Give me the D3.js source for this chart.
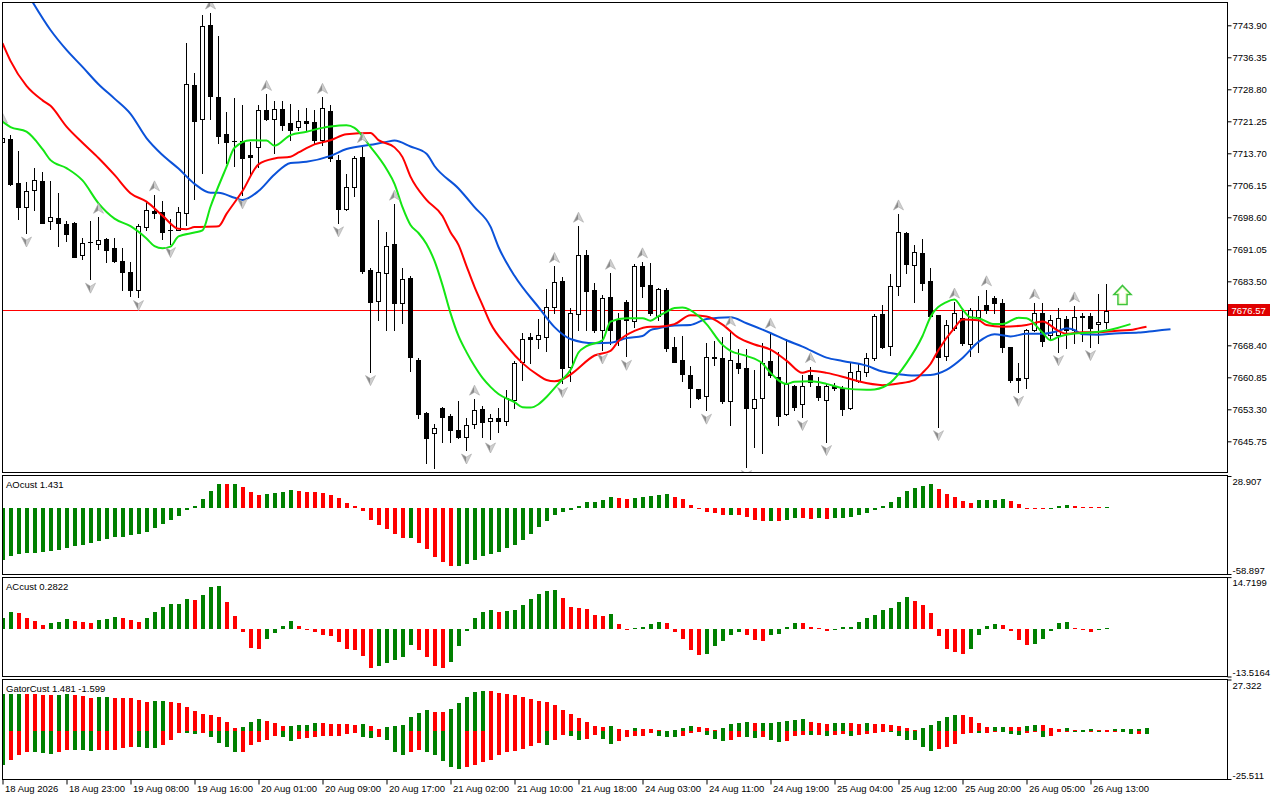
<!DOCTYPE html>
<html><head><meta charset="utf-8">
<script src="https://cdn.jsdelivr.net/npm/d3@7"></script>
<style>
html,body{margin:0;padding:0;background:#fff;overflow:hidden;}
svg{display:block;}
text{font-family:"Liberation Sans",Arial,sans-serif;font-size:9.5px;fill:#000;}
</style></head><body>
<svg id="c" width="1280" height="800"></svg>
<script>
// ---------- DATA ----------
const timeLabelBars = [0,8,16,24,32,40,48,56,64,72,80,88,96,104,112,120,128,136];
const timeLabels = ["18 Aug 2026","18 Aug 23:00","19 Aug 08:00","19 Aug 16:00","20 Aug 01:00","20 Aug 09:00","20 Aug 17:00","21 Aug 02:00","21 Aug 10:00","21 Aug 18:00","24 Aug 03:00","24 Aug 11:00","24 Aug 19:00","25 Aug 04:00","25 Aug 12:00","25 Aug 20:00","26 Aug 05:00","26 Aug 13:00"];
const priceTicks = [7645.75,7653.30,7660.85,7668.40,7683.50,7691.05,7698.60,7706.15,7713.70,7721.25,7728.80,7736.35,7743.90];
const priceRange = [7638.51, 7749.40];
const currentPrice = 7676.57;

const open  = [7716.4,7717.0,7706.7,7701.0,7705.0,7707.1,7697.7,7698.4,7697.0,7697.2,7689.6,7692.8,7692.2,7693.5,7691.3,7688.4,7685.7,7681.5,7696.2,7700.1,7699.8,7695.6,7695.6,7699.5,7729.8,7721.7,7744.0,7727.1,7718.2,7716.6,7716.7,7713.3,7715.2,7723.9,7721.7,7724.2,7720.8,7719.8,7721.3,7721.1,7716.8,7723.7,7712.1,7700.5,7705.7,7712.8,7686.2,7678.9,7685.4,7692.3,7678.5,7684.2,7665.0,7652.4,7647.7,7653.5,7651.7,7648.4,7646.7,7649.8,7653.3,7650.5,7651.2,7650.6,7655.5,7664.4,7670.4,7670.0,7670.3,7677.4,7683.6,7663.3,7675.8,7689.6,7681.4,7672.0,7679.7,7674.4,7678.7,7674.2,7687.2,7682.6,7675.2,7681.5,7668.1,7665.0,7661.4,7658.1,7656.4,7665.7,7665.4,7655.3,7664.3,7663.0,7653.7,7655.9,7664.7,7660.9,7652.1,7658.9,7654.5,7661.4,7658.9,7655.5,7658.8,7658.4,7653.5,7660.0,7662.2,7665.4,7675.8,7668.3,7682.5,7695.0,7687.4,7690.1,7683.6,7675.5,7665.9,7672.4,7674.8,7668.7,7675.0,7677.9,7679.5,7678.5,7667.9,7660.6,7660.7,7672.0,7676.0,7670.9,7670.8,7674.6,7672.0,7675.2,7675.4,7673.4,7674.0];
const high  = [7719.9,7718.0,7714.2,7706.9,7710.2,7709.4,7707.1,7704.4,7697.8,7697.5,7693.8,7697.7,7698.6,7693.7,7693.7,7691.3,7688.1,7697.0,7702.5,7703.9,7702.5,7698.1,7701.1,7739.8,7732.6,7746.4,7746.8,7741.4,7723.5,7726.7,7725.1,7716.4,7725.1,7727.6,7726.1,7726.1,7725.3,7723.9,7724.3,7723.9,7726.9,7725.1,7713.3,7708.8,7713.1,7715.3,7686.6,7698.0,7695.1,7701.7,7686.6,7684.8,7665.4,7652.6,7649.8,7653.9,7652.2,7655.3,7651.2,7655.7,7654.1,7652.2,7653.5,7657.9,7664.7,7671.4,7671.4,7674.6,7681.6,7687.0,7684.6,7677.2,7696.5,7690.9,7683.2,7680.3,7685.4,7676.0,7679.1,7687.6,7688.1,7687.8,7681.9,7681.9,7670.3,7670.5,7663.5,7658.2,7668.9,7669.3,7670.3,7672.0,7667.5,7667.5,7662.6,7668.9,7671.5,7666.9,7670.0,7659.0,7661.4,7663.4,7661.0,7659.5,7659.4,7658.9,7664.2,7664.0,7666.6,7675.8,7677.9,7685.3,7699.4,7695.2,7692.1,7693.4,7686.6,7675.6,7674.4,7678.6,7676.7,7677.2,7680.0,7681.5,7680.0,7679.4,7668.0,7664.2,7672.2,7678.4,7678.3,7675.6,7677.2,7675.2,7677.7,7676.0,7676.1,7680.5,7682.9];
const low   = [7715.9,7706.2,7698.2,7694.9,7700.3,7697.2,7695.9,7691.9,7693.0,7689.2,7688.7,7684.0,7691.1,7688.1,7688.0,7681.5,7680.1,7679.9,7695.6,7698.4,7693.4,7692.4,7695.5,7696.8,7702.9,7709.0,7721.7,7716.2,7711.4,7710.8,7703.9,7708.6,7710.5,7721.6,7713.7,7719.2,7716.8,7719.2,7719.2,7716.1,7715.7,7712.0,7697.3,7700.3,7703.7,7685.4,7662.2,7674.4,7672.0,7672.0,7673.6,7662.3,7651.2,7640.7,7639.4,7645.7,7645.7,7646.6,7643.7,7648.8,7646.7,7646.3,7648.0,7649.6,7653.5,7660.2,7664.2,7667.7,7667.1,7676.0,7659.4,7660.0,7672.0,7672.0,7671.5,7667.3,7668.7,7668.5,7665.8,7672.7,7679.9,7675.6,7674.4,7667.1,7664.4,7660.0,7653.8,7655.7,7653.1,7663.8,7654.9,7649.6,7661.8,7639.8,7644.5,7642.9,7661.0,7649.6,7652.0,7653.1,7651.6,7658.8,7655.5,7645.7,7657.9,7652.0,7653.3,7659.7,7661.2,7665.0,7667.8,7666.2,7680.3,7685.4,7678.7,7681.5,7675.0,7649.2,7665.0,7672.0,7668.5,7665.8,7666.9,7676.0,7676.0,7666.9,7659.8,7657.3,7658.4,7671.8,7668.3,7669.6,7666.9,7667.8,7669.0,7669.3,7668.1,7669.0,7672.4];
const close = [7717.3,7706.4,7701.0,7704.8,7707.3,7697.3,7698.6,7697.3,7694.6,7689.3,7692.5,7692.7,7693.3,7690.9,7688.4,7685.8,7681.5,7696.6,7700.3,7699.7,7695.2,7695.5,7699.8,7730.0,7721.4,7743.7,7727.3,7717.9,7716.4,7716.5,7712.7,7712.9,7723.9,7721.9,7724.2,7720.3,7719.3,7721.3,7720.9,7716.8,7724.3,7712.5,7700.5,7705.7,7712.5,7686.0,7678.7,7685.6,7691.9,7678.3,7684.0,7665.6,7652.1,7646.6,7648.8,7651.6,7648.4,7646.8,7649.6,7653.1,7650.2,7651.2,7650.6,7656.0,7664.2,7669.9,7670.0,7670.8,7677.4,7683.3,7663.0,7676.0,7689.8,7681.3,7671.9,7679.5,7672.0,7669.6,7674.4,7687.2,7682.3,7676.0,7681.6,7667.7,7664.5,7661.6,7658.3,7655.9,7665.6,7665.4,7655.3,7665.0,7663.0,7653.5,7655.7,7664.3,7661.4,7651.7,7659.3,7653.9,7658.9,7659.8,7656.1,7658.9,7658.4,7653.3,7662.2,7662.3,7665.5,7675.2,7668.1,7682.5,7695.1,7687.5,7690.4,7683.2,7675.2,7665.6,7673.2,7676.1,7668.9,7676.7,7676.7,7676.7,7678.4,7668.1,7660.2,7660.2,7672.0,7676.0,7669.5,7674.4,7674.9,7672.0,7675.0,7675.0,7672.4,7674.0,7676.57];

const upFractalBars   = [0,12,19,26,33,40,45,49,59,69,72,76,80,91,96,101,112,119,123,129,134];
const downFractalBars = [3,11,17,21,30,42,46,54,58,61,70,75,78,88,93,100,103,117,127,132,136];

const jawPoints = [[3,7751.8],[6,7742.8],[8,7738.1],[10,7734.1],[12,7730.0],[14,7726.6],[16,7723.0],[18,7717.3],[20,7713.3],[22,7710.1],[24,7706.5],[26,7704.4],[27,7704.4],[29,7703.2],[30,7702.7],[32,7704.8],[34,7708.7],[36,7711.4],[38,7711.7],[41,7713.1],[43,7714.7],[46,7715.7],[48,7716.4],[49,7716.7],[51,7715.3],[53,7713.6],[54,7710.7],[57,7705.4],[59,7701.0],[61,7696.4],[62,7691.6],[64,7684.8],[67,7677.4],[69,7672.7],[71,7669.9],[74,7668.9],[76,7669.0],[78,7670.1],[80,7670.6],[81,7672.0],[82,7672.4],[84,7673.1],[86,7673.2],[88,7674.6],[91,7675.0],[93,7673.6],[96,7671.3],[98,7669.6],[100,7668.1],[103,7665.5],[105,7664.7],[108,7663.6],[110,7662.2],[112,7661.6],[114,7661.3],[116,7661.4],[118,7662.6],[120,7665.4],[122,7669.2],[124,7671.0],[126,7670.5],[128,7671.1],[130,7671.1],[132,7671.8],[133,7672.4],[134,7672.0],[135,7671.0],[137,7670.9],[139,7671.2],[142,7671.4],[144,7671.8],[146,7672.2]];
const teethPoints = [[0,7739.7],[1,7735.5],[3,7729.6],[5,7726.2],[6,7724.9],[8,7720.0],[10,7716.2],[12,7712.6],[14,7708.6],[16,7704.3],[18,7702.3],[20,7699.0],[22,7695.9],[23,7695.8],[24,7696.3],[27,7696.5],[28,7699.4],[30,7704.8],[32,7711.1],[34,7712.5],[36,7712.9],[37,7713.9],[39,7715.8],[41,7716.8],[43,7718.2],[46,7718.5],[47,7716.8],[49,7715.1],[50,7712.8],[51,7708.2],[53,7702.7],[55,7698.9],[56,7695.1],[57,7692.1],[58,7687.1],[59,7682.2],[60,7677.9],[61,7673.6],[63,7668.3],[65,7664.2],[67,7661.3],[68,7660.2],[69,7659.9],[70,7660.4],[71,7661.5],[74,7666.0],[76,7667.1],[77,7669.4],[79,7671.8],[81,7672.8],[82,7672.8],[84,7673.4],[86,7675.5],[88,7675.2],[90,7673.3],[92,7670.2],[94,7668.6],[96,7667.4],[98,7664.8],[100,7661.9],[101,7662.4],[103,7661.9],[105,7661.0],[107,7659.9],[110,7659.0],[112,7659.4],[114,7660.2],[115,7661.9],[116,7664.0],[117,7667.3],[119,7672.5],[120,7674.5],[122,7674.3],[123,7673.2],[125,7672.8],[128,7673.2],[130,7674.0],[132,7671.8],[133,7671.1],[135,7671.5],[137,7671.5],[139,7671.8],[141,7672.0],[142,7672.4],[143,7672.8]];
const lipsPoints = [[0,7721.2],[1,7719.9],[3,7718.8],[5,7714.7],[6,7712.1],[8,7710.2],[10,7707.3],[12,7701.9],[14,7698.3],[16,7696.5],[18,7693.6],[19,7691.8],[20,7691.3],[21,7691.7],[22,7694.1],[24,7695.0],[25,7695.5],[26,7701.1],[28,7710.5],[29,7715.0],[31,7716.8],[33,7716.7],[34,7715.5],[36,7718.0],[38,7718.8],[40,7719.7],[41,7720.0],[43,7720.3],[44,7719.7],[46,7715.2],[48,7710.0],[49,7706.5],[50,7701.0],[51,7696.8],[52,7694.9],[53,7692.3],[54,7688.3],[55,7682.6],[56,7676.0],[57,7670.6],[58,7666.8],[59,7663.5],[60,7660.7],[61,7658.6],[62,7656.9],[64,7655.0],[65,7653.8],[66,7653.7],[67,7654.5],[68,7656.2],[69,7658.3],[70,7660.4],[71,7662.6],[72,7666.7],[73,7668.2],[75,7669.6],[76,7674.0],[78,7674.8],[80,7674.8],[81,7674.2],[82,7675.3],[83,7676.3],[84,7677.2],[85,7677.3],[87,7675.3],[88,7673.4],[90,7668.5],[91,7667.1],[93,7665.9],[95,7664.1],[96,7661.9],[98,7659.3],[99,7659.8],[101,7659.9],[103,7659.3],[105,7658.3],[108,7657.9],[109,7658.0],[111,7659.6],[113,7664.2],[115,7670.6],[116,7675.1],[118,7678.6],[119,7679.2],[120,7676.9],[121,7675.0],[122,7674.8],[124,7673.4],[125,7673.4],[127,7674.9],[128,7674.8],[130,7671.4],[131,7669.6],[132,7670.4],[134,7671.2],[136,7671.4],[138,7671.9],[139,7672.3],[141,7673.4]];

const signalBar = 140, signalPrice = 7682.6;

const aoRange = [-58.897, 28.907];
const aoValues = [-46.0,-42.4,-40.9,-40.3,-39.7,-39.1,-38.2,-37.0,-35.5,-34.1,-32.9,-31.1,-29.3,-27.5,-26.0,-25.4,-24.2,-22.7,-21.2,-17.6,-14.0,-10.5,-6.6,-1.5,2.1,8.4,15.2,21.6,21.4,21.5,18.8,14.3,11.9,12.5,13.4,14.3,16.1,15.2,14.3,14.2,13.4,11.9,9.0,4.5,1.8,-2.4,-10.5,-14.9,-18.5,-23.0,-26.6,-26.5,-31.1,-36.7,-43.9,-48.4,-52.0,-51.9,-50.2,-46.6,-43.0,-41.2,-39.4,-35.8,-33.2,-28.7,-23.3,-17.0,-11.6,-6.3,-3.3,-1.5,2.1,5.4,5.5,7.2,9.9,9.0,8.4,9.3,10.2,11.1,11.9,12.8,10.2,8.4,3.0,-0.3,-3.0,-3.9,-5.7,-5.6,-5.7,-7.5,-10.2,-11.1,-11.0,-11.15,-10.2,-8.4,-8.5,-9.3,-8.4,-9.3,-8.4,-8.3,-7.5,-5.7,-3.9,-1.2,2.1,5.4,9.9,15.2,17.9,20.3,21.5,17.3,12.5,9.9,6.3,4.5,7.1,7.2,7.3,8.1,6.3,3.6,0.6,0.1,-0.2,-0.1,2.1,2.7,1.9,1.5,1.3,1.2,1.431];

const acRange = [-13.5164, 14.7199];
const acValues = [3.0,4.7,4.6,3.0,2.2,1.0,1.6,1.9,2.7,2.2,1.9,1.6,2.6,2.7,3.3,3.0,2.5,1.9,3.0,4.7,6.2,7.0,7.05,8.4,8.3,9.6,11.8,12.1,7.6,3.6,-0.8,-5.3,-5.7,-2.8,-1.1,0.9,2.2,0.9,-0.2,-0.8,-1.6,-2.1,-3.8,-5.7,-5.9,-7.7,-11.1,-10.5,-9.7,-8.8,-8.0,-4.5,-6.0,-8.0,-10.5,-11.1,-9.4,-4.8,-0.6,3.2,4.9,5.3,4.7,5.0,5.3,6.7,8.4,9.8,10.7,11.0,8.7,6.2,5.9,5.6,3.9,3.6,4.2,1.3,-0.2,0.2,0.5,1.4,2.0,1.7,-0.9,-2.9,-6.0,-7.4,-7.1,-4.9,-3.4,-1.7,-0.9,-1.7,-3.2,-3.4,-1.7,-1.4,0.5,1.7,1.6,0.5,0.3,-0.6,-0.2,0.5,0.6,2.0,3.1,3.9,5.3,5.9,7.6,9.0,7.9,6.7,4.5,-2.0,-5.7,-6.5,-7.1,-5.7,-1.7,0.8,1.3,1.0,-0.6,-3.1,-4.5,-4.3,-2.8,-0.6,1.6,1.9,0.3,-0.2,-0.8,-0.4,0.2822];

const gatorRange = [-25.511, 27.322];
const gatorUp = [19.5,19.6,19.7,19.6,19.5,19.1,19.0,19.1,19.6,19.1,18.6,17.7,17.8,18.2,17.7,17.6,17.5,16.5,15.6,15.7,15.8,15.5,14.7,12.6,10.6,9.0,8.5,7.6,4.8,1.4,2.1,4.8,6.4,5.5,4.1,2.7,2.8,2.9,3.2,4.2,4.1,3.7,3.6,3.5,3.4,3.6,2.6,1.0,2.3,2.4,3.2,7.6,9.4,11.0,10.2,10.1,11.7,14.6,18.2,20.7,21.2,21.1,20.0,19.5,19.1,18.2,16.8,16.1,15.6,13.8,11.2,9.0,6.9,4.8,2.7,2.1,2.7,1.1,0.5,1.6,1.1,1.0,0.5,0.1,0.5,1.6,2.7,2.1,1.6,0.5,1.6,3.7,4.2,4.8,4.2,4.3,4.4,4.5,5.3,5.8,6.4,4.8,4.2,3.7,4.2,4.3,4.2,3.7,4.2,3.7,3.6,3.2,2.7,1.6,0.5,1.6,3.2,5.3,7.4,8.5,8.4,7.4,4.2,2.0,2.1,2.2,2.1,2.0,2.7,3.2,3.1,1.6,1.1,1.6,0.5,0.6,1.1,0.5,0.4,1.0,1.1,1.2,1.3,1.481];
const gatorDown = [-18.1,-15.4,-12.7,-11.0,-11.1,-11.5,-12.2,-11.0,-10.1,-10.2,-10.3,-10.4,-10.1,-10.0,-9.9,-8.8,-8.3,-8.4,-9.0,-9.1,-7.4,-4.8,-1.2,-1.3,-1.4,-0.9,-3.0,-6.5,-8.3,-11.3,-11.2,-7.4,-5.7,-4.8,-2.5,-3.0,-5.1,-4.2,-3.9,-3.0,-2.9,-2.8,-2.7,-1.8,-1.2,-3.4,-3.5,-3.3,-4.8,-11.0,-12.7,-11.0,-10.1,-11.0,-12.7,-15.8,-19.3,-20.4,-19.3,-18.1,-16.3,-15.4,-12.7,-11.0,-10.9,-9.7,-8.0,-6.5,-7.4,-4.8,-2.1,-2.5,-4.8,-4.2,-2.1,-4.2,-6.9,-5.3,-3.0,-2.9,-2.5,-1.2,-2.7,-3.0,-3.1,-2.7,-0.9,-0.4,-2.1,-4.2,-5.3,-4.8,-3.0,-3.1,-3.5,-3.4,-4.8,-5.8,-5.3,-2.5,-2.1,-2.2,-2.1,-2.7,-2.1,-1.6,-2.7,-2.1,-1.6,-0.9,-0.5,-0.6,-2.7,-4.8,-4.9,-8.3,-10.4,-9.6,-8.3,-6.9,-1.6,-0.9,-1.0,-0.9,-0.5,-0.6,-1.6,-2.1,-0.9,-0.8,-3.0,-2.9,-0.1,-0.1,-0.5,-0.6,-0.3,-0.5,-0.4,-0.3,-0.5,-1.5,-1.4,-1.599];

// ---------- DRAW ----------
const svg = d3.select('#c');
const GREEN = '#008000', RED = '#ff0000';
const L = 2.5, R = 1227.5;
const panels = {
  main:  {top: 2.5,   bottom: 472.5},
  ao:    {top: 475.5, bottom: 574.5},
  ac:    {top: 577.5, bottom: 676.5},
  gator: {top: 679.5, bottom: 779.5}
};
const x = d3.scaleLinear().domain([0, 146]).range([2, 1170]);
const yMain  = d3.scaleLinear().domain(priceRange).range([472, 2]);
const yAO    = d3.scaleLinear().domain(aoRange).range([574, 476]);
const yAC    = d3.scaleLinear().domain(acRange).range([676.5, 577.1]);
const yGator = d3.scaleLinear().domain(gatorRange).range([779, 679.5]);

const defs = svg.append('defs');
Object.entries(panels).forEach(([k, p]) => {
  defs.append('clipPath').attr('id', 'clip-' + k).append('rect')
    .attr('x', L + 0.5).attr('y', p.top + 0.5).attr('width', R - L - 1).attr('height', p.bottom - p.top - 1);
});

// ---- main panel ----
const gMain = svg.append('g').attr('clip-path', 'url(#clip-main)');
const yBid = Math.floor(yMain(currentPrice)) + 0.5;
gMain.append('line').attr('x1', L).attr('x2', R).attr('y1', yBid).attr('y2', yBid)
  .attr('stroke', RED).attr('stroke-width', 1);

const candles = gMain.append('g').attr('shape-rendering', 'crispEdges');
open.forEach((o, i) => {
  const c = close[i], X = Math.round(x(i));
  const yH = Math.round(yMain(high[i])), yL = Math.round(yMain(low[i]));
  candles.append('line').attr('x1', X + 0.5).attr('x2', X + 0.5).attr('y1', yH).attr('y2', yL + 1)
    .attr('stroke', '#000').attr('stroke-width', 1);
  const yT = Math.round(yMain(Math.max(o, c))), yB = Math.round(yMain(Math.min(o, c)));
  if (c < o || yB - yT < 2) {
    candles.append('rect').attr('x', X - 2).attr('y', yT).attr('width', 5).attr('height', Math.max(1, yB - yT + 1)).attr('fill', '#000');
  } else {
    candles.append('rect').attr('x', X - 1.5).attr('y', yT + 0.5).attr('width', 4).attr('height', yB - yT)
      .attr('fill', '#fff').attr('stroke', '#000').attr('stroke-width', 1);
  }
});

const line = d3.line().x(d => x(d[0]) + 0.5).y(d => yMain(d[1])).curve(d3.curveMonotoneX);
[[jawPoints, '#0b52d9'], [teethPoints, '#ff0000'], [lipsPoints, '#14e614']].forEach(([pts, col]) => {
  gMain.append('path').attr('d', line(pts)).attr('fill', 'none').attr('stroke', col)
    .attr('stroke-width', 2).attr('stroke-linejoin', 'round');
});

// fractals
const fr = gMain.append('g');
function fractal(cx, cy, up) {
  const s = up ? 1 : -1;
  fr.append('path').attr('d', `M${cx},${cy - 5 * s} L${cx},${cy + 2 * s} L${cx - 5},${cy + 5 * s} Z`).attr('fill', '#8c8c8c');
  fr.append('path').attr('d', `M${cx},${cy - 5 * s} L${cx + 5},${cy + 5 * s} L${cx},${cy + 2 * s} Z`).attr('fill', '#cfcfcf');
  fr.append('path').attr('d', `M${cx},${cy - 5 * s} L${cx + 5},${cy + 5 * s} L${cx},${cy + 2 * s} L${cx - 5},${cy + 5 * s} Z`)
    .attr('fill', 'none').attr('stroke', '#a8a8a8').attr('stroke-width', 0.6);
}
upFractalBars.forEach(i => fractal(Math.round(x(i)) + 0.5, yMain(high[i]) - 9, true));
downFractalBars.forEach(i => fractal(Math.round(x(i)) + 0.5, yMain(low[i]) + 9, false));

// signal arrow
{
  const cx = Math.round(x(signalBar)) + 0.5, ty = Math.round(yMain(signalPrice)) + 0.5;
  const d = `M${cx},${ty} L${cx + 8.5},${ty + 9} L${cx + 4.5},${ty + 9} L${cx + 4.5},${ty + 19} L${cx - 4.5},${ty + 19} L${cx - 4.5},${ty + 9} L${cx - 8.5},${ty + 9} Z`;
  gMain.append('path').attr('d', d).attr('fill', '#ffffff').attr('stroke', '#3dc43d').attr('stroke-width', 1.6).attr('stroke-linejoin', 'miter');
  const d2 = `M${cx},${ty + 2.2} L${cx + 6},${ty + 8} L${cx + 3.3},${ty + 8} L${cx + 3.3},${ty + 17.8} L${cx - 3.3},${ty + 17.8} L${cx - 3.3},${ty + 8} L${cx - 6},${ty + 8} Z`;
  gMain.append('path').attr('d', d2).attr('fill', 'none').attr('stroke', '#d8f5a0').attr('stroke-width', 0.8);
}

// ---- histograms ----
function trendColors(vals, absMode) {
  let up = true;
  return vals.map((v, i) => {
    if (i > 0) {
      const a = absMode ? Math.abs(v) : v, b = absMode ? Math.abs(vals[i - 1]) : vals[i - 1];
      if (a > b) up = true; else if (a < b) up = false;
    }
    return up ? GREEN : RED;
  });
}
function histogram(key, vals, yS, absMode) {
  const g = svg.append('g').attr('clip-path', `url(#clip-${key})`).attr('shape-rendering', 'crispEdges');
  const cols = trendColors(vals, absMode);
  const y0 = Math.round(yS(0));
  vals.forEach((v, i) => {
    const X = Math.round(x(i));
    const y1 = Math.round(yS(v));
    const top = Math.min(y0, y1), h = Math.max(1, Math.abs(y1 - y0));
    g.append('rect').attr('x', X - 1).attr('y', v >= 0 ? top : y0).attr('width', 4).attr('height', h).attr('fill', cols[i]);
  });
}
histogram('ao', aoValues, yAO, false);
histogram('ac', acValues, yAC, false);
histogram('gator', gatorUp, yGator, true);
histogram('gator', gatorDown, yGator, true);

// ---- panel frames ----
Object.values(panels).forEach(p => {
  svg.append('rect').attr('x', L).attr('y', p.top).attr('width', R - L).attr('height', p.bottom - p.top)
    .attr('fill', 'none').attr('stroke', '#000').attr('stroke-width', 1);
});

// ---- price axis ----
const pAxis = svg.append('g').attr('transform', `translate(${R},0)`)
  .call(d3.axisRight(yMain).tickValues(priceTicks).tickSize(4).tickPadding(1).tickFormat(d => d.toFixed(2)));
pAxis.select('.domain').remove();
pAxis.selectAll('text').attr('font-family', '"Liberation Sans",Arial,sans-serif').attr('font-size', 9.5).attr('fill', '#000');
pAxis.selectAll('line').attr('stroke', '#000');

// current price label
svg.append('rect').attr('x', R + 0.5).attr('y', yBid - 6.5).attr('width', 42).attr('height', 12).attr('fill', '#e00000');
svg.append('text').attr('x', R + 4).attr('y', yBid + 3.5).style('fill', '#fff').text(currentPrice.toFixed(2));

// ---- indicator axes ----
function sideAxis(yS, range, dec) {
  const g = svg.append('g').attr('transform', `translate(${R},0)`)
    .call(d3.axisRight(yS).tickValues([range[1], range[0]]).tickSize(4).tickPadding(1).tickFormat(d => d.toFixed(dec)));
  g.select('.domain').remove();
  g.selectAll('line').attr('stroke', '#000');
  g.selectAll('text').attr('font-family', '"Liberation Sans",Arial,sans-serif').attr('font-size', 9.5).attr('fill', '#000')
    .attr('dy', null).attr('y', (d) => d === range[1] ? 8.5 : -1);
}
sideAxis(yAO, aoRange, 3);
sideAxis(yAC, acRange, 4);
sideAxis(yGator, gatorRange, 3);

// ---- indicator titles ----
svg.append('text').attr('x', 6).attr('y', 488).text('AOcust ' + aoValues[aoValues.length - 1].toFixed(3));
svg.append('text').attr('x', 6).attr('y', 590).text('ACcust ' + acValues[acValues.length - 1].toFixed(4));
svg.append('text').attr('x', 6).attr('y', 691.5).text('GatorCust ' + gatorUp[gatorUp.length - 1].toFixed(3) + ' ' + gatorDown[gatorDown.length - 1].toFixed(3));

// ---- time axis ----
const tAxis = svg.append('g').attr('transform', `translate(0.5,${panels.gator.bottom})`)
  .call(d3.axisBottom(x).tickValues(timeLabelBars).tickSize(5).tickFormat((d, i) => timeLabels[i]));
tAxis.select('.domain').remove();
tAxis.selectAll('line').attr('stroke', '#000');
tAxis.selectAll('text').attr('font-family', '"Liberation Sans",Arial,sans-serif').attr('font-size', 9.5).attr('fill', '#000')
  .attr('text-anchor', 'start').attr('x', 2).attr('y', 12.5).attr('dy', null);
</script>
</body></html>
